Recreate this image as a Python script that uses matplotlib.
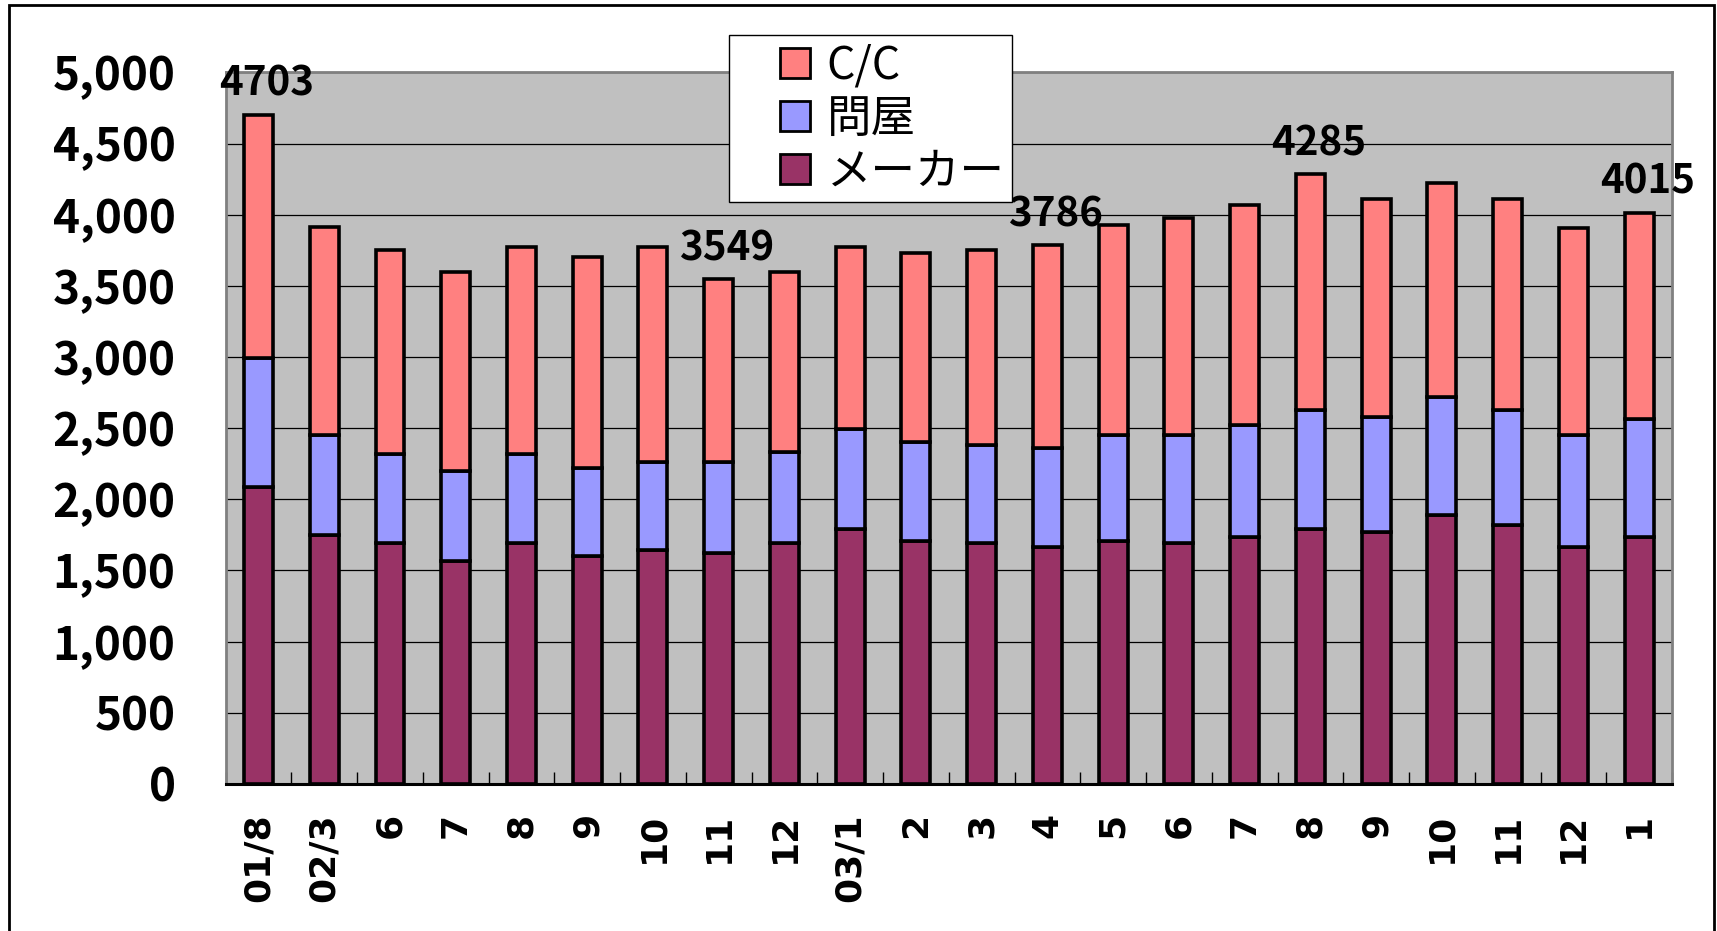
import matplotlib
matplotlib.use('Agg')
import matplotlib.pyplot as plt
import numpy as np
from matplotlib.patches import Rectangle
from matplotlib.lines import Line2D

plt.rcParams['font.family'] = ['Noto Sans CJK JP', 'DejaVu Sans']

# month labels (01/8 ... 03/1 ... 1)
months = ['01/8', '02/3', '6', '7', '8', '9', '10', '11', '12', '03/1', '2',
          '3', '4', '5', '6', '7', '8', '9', '10', '11', '12', '1']

# stacked segments
maker = [2090, 1750, 1690, 1570, 1690, 1600, 1645, 1620, 1690, 1795, 1710,
         1690, 1665, 1710, 1690, 1735, 1795, 1770, 1890, 1820, 1665, 1735]
tonya = [900, 700, 630, 630, 630, 620, 620, 645, 645, 700, 695,
         690, 695, 740, 760, 785, 830, 810, 830, 805, 785, 830]
cc = [1713, 1460, 1430, 1400, 1455, 1485, 1510, 1284, 1265, 1280, 1325,
      1370, 1426, 1475, 1525, 1545, 1660, 1530, 1505, 1485, 1455, 1450]

# bars whose total is written above them
labelled = [0, 7, 12, 16, 21]

series_names = ['C/C', '問屋', 'メーカー']
colors = {'C/C': '#FF8080', '問屋': '#9999FF', 'メーカー': '#993366'}

fig = plt.figure(figsize=(17.17, 9.31), dpi=100)
ax = fig.add_axes([0.1314, 0.1579, 0.8424, 0.7644])
ax.set_facecolor('#C0C0C0')

x = np.arange(len(months))
maker_a = np.array(maker)
tonya_a = np.array(tonya)
cc_a = np.array(cc)
total = maker_a + tonya_a + cc_a

bw = 0.44
lw = 2.6
ax.bar(x, maker_a, bw, color=colors['メーカー'], edgecolor='black', linewidth=lw, zorder=3)
ax.bar(x, tonya_a, bw, bottom=maker_a, color=colors['問屋'], edgecolor='black', linewidth=lw, zorder=3)
ax.bar(x, cc_a, bw, bottom=maker_a + tonya_a, color=colors['C/C'], edgecolor='black', linewidth=lw, zorder=3)

# total labels
for i in labelled:
    ax.annotate(str(total[i]), (x[i], total[i]), xytext=(6, 7), textcoords='offset points',
                ha='center', va='bottom', fontsize=29, fontweight='bold', zorder=5)

ax.set_xlim(-0.5, len(months) - 0.5)
ax.set_ylim(0, 5000)
ax.set_yticks(np.arange(0, 5001, 500))
ax.set_yticklabels([f'{v:,}' for v in range(0, 5001, 500)], fontsize=33, fontweight='bold')
ax.tick_params(axis='y', length=0, pad=36)
ax.grid(axis='y', color='black', linewidth=0.9, zorder=1)

ax.set_xticks(x)
ax.set_xticklabels(months, rotation=90, fontsize=26, fontweight='bold',
                   family=['DejaVu Sans'])
ax.tick_params(axis='x', which='major', length=0, pad=21)
ax.set_xticks(np.arange(-0.5, len(months), 1), minor=True)
ax.tick_params(axis='x', which='minor', direction='in', length=9, width=1, color='black')

for side in ['top', 'right', 'left']:
    ax.spines[side].set_color('#808080')
    ax.spines[side].set_linewidth(2)
ax.spines['bottom'].set_color('black')
ax.spines['bottom'].set_linewidth(2.2)

# legend: square markers centred in a wide handle box
handles = [Line2D([], [], linestyle='none', marker='s', markersize=21,
                  markerfacecolor=colors[n], markeredgecolor='black', markeredgewidth=2)
           for n in series_names]
leg = fig.legend(handles=handles, labels=series_names, numpoints=1,
                 loc='upper left', bbox_to_anchor=(0.4246, 0.9624),
                 fontsize=32, frameon=True, fancybox=False, framealpha=1,
                 edgecolor='black', handlelength=2.65, handleheight=0.7,
                 handletextpad=-0.62, labelspacing=0.16, borderpad=0.17,
                 borderaxespad=0)
leg.get_frame().set_linewidth(1)

# outer chart frame
fig.patches.append(Rectangle((0.005, -0.1), 0.993, 1.095, transform=fig.transFigure,
                             fill=False, edgecolor='black', linewidth=2))

fig.savefig('out.png', dpi=100)
